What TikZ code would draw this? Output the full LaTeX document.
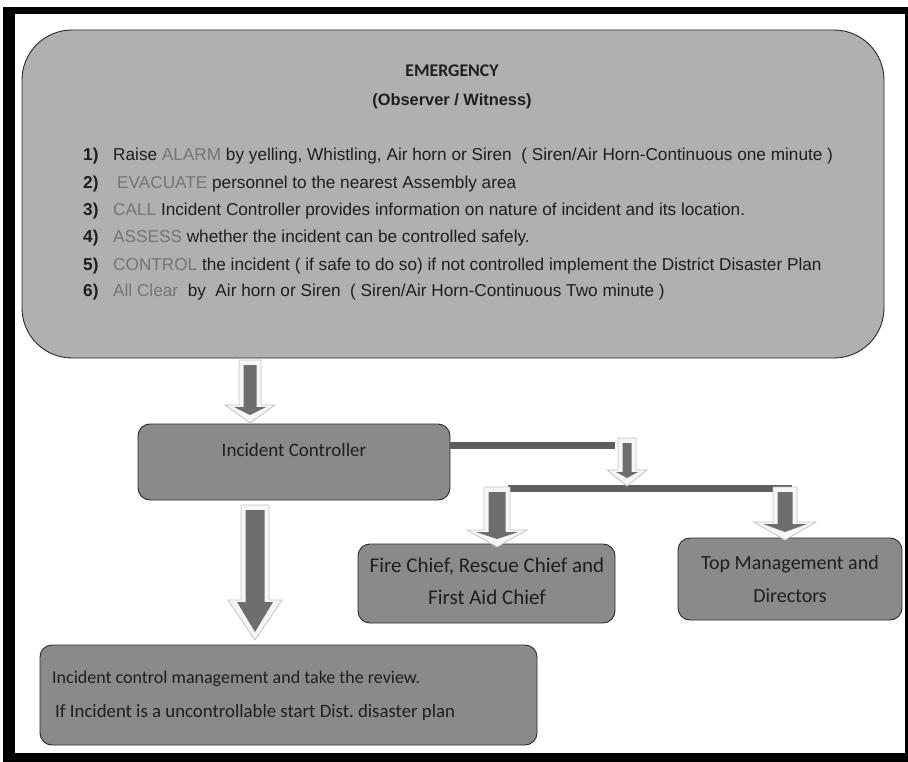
\documentclass[tikz,border=0pt]{standalone}
\usepackage{fontspec}
\setmainfont{Liberation Sans}
\newfontfamily\calfont{Carlito}
\usetikzlibrary{calc}
\frenchspacing
\definecolor{bigfill}{HTML}{B0B0B0}
\definecolor{boxfill}{HTML}{8A8A8A}
\definecolor{kw}{HTML}{757575}
\definecolor{txt}{HTML}{1E1E1E}
\definecolor{barc}{HTML}{5E5E5E}
\definecolor{arrdark}{HTML}{6E6E6E}
\definecolor{arrlight}{HTML}{F6F6F6}
\definecolor{arredge}{HTML}{C4C4C4}
\definecolor{boxedge}{HTML}{2A2A2A}
\newcommand\kwd[1]{\textcolor{kw}{#1}}
\newcommand\blockarr[6]{%
  \filldraw[fill=arrlight,draw=arredge,line width=0.8pt]
    ({#1-#4},#2) -- ({#1+#4},#2) -- ({#1+#4},#6) -- ({#1+#5},#6) -- (#1,#3)
    -- ({#1-#5},#6) -- ({#1-#4},#6) -- cycle;
  \fill[arrdark]
    ({#1-#4+4.5},{#2+5}) -- ({#1+#4-4.5},{#2+5}) -- ({#1+#4-4.5},{#6+2})
    -- ({#1+#5-9},{#6+2}) -- (#1,{#3-8}) -- ({#1-#5+9},{#6+2})
    -- ({#1-#4+4.5},{#6+2}) -- cycle;
}
\tikzset{
  bigbox/.style={draw=boxedge,line width=0.9pt,fill=bigfill,rounded corners=50pt,inner sep=0pt},
  graybox/.style={draw=boxedge,line width=0.9pt,fill=boxfill,rounded corners=12pt,inner sep=0pt},
  listtxt/.style={anchor=base west,inner sep=0pt,text=txt,font=\fontsize{17.2}{20}\selectfont},
  numtxt/.style={anchor=base west,inner sep=0pt,text=txt,font=\fontsize{17.2}{20}\selectfont\bfseries},
  caltxt/.style={anchor=base,inner sep=0pt,text=txt,font=\calfont\fontsize{20}{24}\selectfont},
  calwest/.style={anchor=base west,inner sep=0pt,text=txt,font=\calfont\fontsize{18}{22}\selectfont},
  barline/.style={draw=barc,line width=7pt},
}
\begin{document}
\begin{tikzpicture}[x=1pt,y=-1pt]
\useasboundingbox (0,0) rectangle (908,762);
% frame
\fill[black] (3,7) rectangle (15,762);
\fill[black] (3,7) rectangle (908,14);
\fill[black] (3,753) rectangle (908,762);
\fill[black] (905,7) rectangle (908,762);

% boxes
\node[bigbox,minimum width=862pt,minimum height=328pt] (emg) at (453,194) {};
\node[graybox,minimum width=312pt,minimum height=76pt] (ic) at (294,462) {};
\node[graybox,minimum width=257pt,minimum height=79pt] (fire) at (486.5,583.5) {};
\node[graybox,minimum width=224pt,minimum height=82pt] (top) at (790,579) {};
\node[graybox,minimum width=497pt,minimum height=100pt] (rev) at (288.5,695) {};

% title
\node[anchor=base,inner sep=0pt,text=txt,font=\calfont\fontsize{17.8}{20}\selectfont\bfseries] (t1) at (452,77) {EMERGENCY};
\node[anchor=base,inner sep=0pt,text=txt,font=\fontsize{16.4}{18}\selectfont\bfseries] (t2) at (452,106) {(Observer / Witness)};

% list
\node[numtxt] (n1) at (83,161) {1)};
\node[numtxt] (n2) at (83,189) {2)};
\node[numtxt] (n3) at (83,216) {3)};
\node[numtxt] (n4) at (83,243) {4)};
\node[numtxt] (n5) at (83,270) {5)};
\node[numtxt] (n6) at (83,297) {6)};
\node[listtxt] (l1) at (113,161) {Raise \kwd{ALARM} by yelling, Whistling, Air horn or Siren\ \ ( Siren/Air Horn-Continuous one minute )};
\node[listtxt] (l2) at (117,189) {\kwd{EVACUATE} personnel to the nearest Assembly area};
\node[listtxt] (l3) at (113,216) {\kwd{CALL} Incident Controller provides information on nature of incident and its location.};
\node[listtxt] (l4) at (113,243) {\kwd{ASSESS} whether the incident can be controlled safely.};
\node[listtxt] (l5) at (113,270) {\kwd{CONTROL} the incident ( if safe to do so) if not controlled implement the District Disaster Plan};
\node[listtxt] (l6) at (113,297) {\kwd{All Clear}\ \ by\ \ Air horn or Siren\ \ ( Siren/Air Horn-Continuous Two minute )};

% box texts
\node[caltxt,font=\calfont\fontsize{19}{22}\selectfont] (ict) at (294,456) {Incident Controller};
\node[caltxt,font=\calfont\fontsize{21}{24}\selectfont] (fr1) at (487,572) {Fire Chief, Rescue Chief and};
\node[caltxt,font=\calfont\fontsize{21}{24}\selectfont] (fr2) at (487,604) {First Aid Chief};
\node[caltxt] (tp1) at (790,569) {Top Management and};
\node[caltxt] (tp2) at (790,602) {Directors};
\node[calwest] (rv1) at (52,683) {Incident control management and take the review.};
\node[calwest,font=\calfont\fontsize{18.8}{22}\selectfont] (rv2) at (55,717) {If Incident is a uncontrollable start Dist. disaster plan};

% connectors
\coordinate (b1e) at (615,445.5);
\coordinate (j1) at (508,488.5);
\coordinate (j2) at (792,488.5);
\draw[barline] (ic.east |- b1e) -- (b1e);
\draw[barline] (j1) -- (j2);

% block arrows: cx, ytop, ytip, shaft half, head half, head top
\blockarr{250}{360}{423}{11}{25}{405}
\blockarr{627}{438}{486}{9}{20}{470}
\blockarr{497}{487}{547}{13}{30}{530}
\blockarr{785}{487}{540}{12}{31}{522}
\blockarr{255}{505}{640}{14}{27}{600}
\end{tikzpicture}
\end{document}
